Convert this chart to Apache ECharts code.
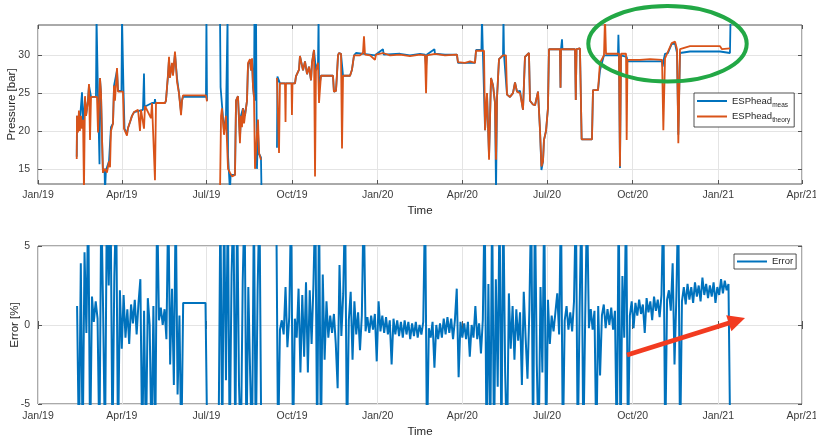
<!DOCTYPE html>
<html>
<head>
<meta charset="utf-8">
<script src="https://cdn.jsdelivr.net/npm/echarts@6/dist/echarts.min.js"></script>
<style>
html,body{margin:0;padding:0;background:#fff;}
#chart{width:816px;height:439px;}
</style>
</head>
<body>
<div id="chart"></div>
<script>
// ---------------- DATA (day = days since 2019-01-01) ----------------
const xTickLabels = ['Jan/19','Apr/19','Jul/19','Oct/19','Jan/20','Apr/20','Jul/20','Oct/20','Jan/21','Apr/21'];
const xTickDates = ['2019-01-01','2019-04-01','2019-07-01','2019-10-01','2020-01-01','2020-04-01','2020-07-01','2020-10-01','2021-01-01','2021-04-01'];
const pressureTicks = [15, 20, 25, 30];
const errorTicks = [-5, 0, 5];

// ESPhead_meas [day, bar]
const espMeas = [
[41.6,16.6],[42,22],[44,20.2],[45.7,22.5],[47.3,25.1],[48.4,20.6],[50.5,24.3],[51.6,22],[53.7,24],[54.8,26],[57,24.5],[62.3,24.5],[62.9,35],[64.5,24.5],[66.1,15.6],[66.6,27],[67.7,25],[68.8,19],[69.8,14.5],[71.5,15],[72,12],[73,14.8],[74.1,14.8],[76.3,16],[78.4,20.5],[80.6,21],[81.7,26],[84.9,28],[86,25.3],[89.7,25.3],[90.3,35],[91.9,25.3],[93,20.3],[95.6,19.6],[96.7,20.4],[98.9,21.2],[101,22],[103.2,22.5],[112.8,22.8],[113.9,27.6],[114.5,23.2],[122.5,23.7],[125.2,23.7],[125.7,24.2],[126.3,23.7],[136.5,23.7],[137.5,24],[139.7,27.3],[140.8,29.5],[141.8,27.2],[144,28.8],[145.1,27.5],[147.2,30.2],[149.4,27],[151.5,25],[153.7,22.5],[154.7,24],[155.8,24.5],[180.5,24.5],[181,35],[181.6,24],
[188,null],
[195.6,35],[196.2,25.8],[197.7,25.8],[199.9,20],[202,22],[203.7,35],[204.2,16.8],[206.3,12],[207,14.2],[211.7,14.2],[212.8,24],[214.9,24.6],[216,24.5],[217,19],[218.1,22],[220.3,23],[222.4,22],[224.6,24],[225.7,28.8],[227.8,29.3],[228.9,28],[230,29.3],[231,26],[232.1,24.5],[232.6,35],[233.2,24],[234.3,35],[234.8,24],[235.3,15],[236.4,20],[237.5,17],[239.6,16.5],[240.2,12],
[248,null],
[256.8,17.8],[257.3,27.2],[259,27],[260,26.3],[276.2,26.3],[277.2,27.2],[280.5,28.1],[281.5,29.9],[282.6,30],[284.8,28],[286.9,29.2],[289.1,27.5],[291.2,28.5],[293.4,26.7],[294.4,29],[296.6,30.7],[298.7,28],[300.9,29],[301.5,35],[302,25.7],[303,25.5],[304.1,27.3],[317,27.3],[318,25.2],[320.2,25.3],[321.3,27.5],[322.4,30],[323.4,30.3],[325.6,30.2],[327.8,27.3],[335.3,27.3],[337.4,28.1],[339.6,30],[341.7,30.3],[350.3,30.2],[362.1,30],[370.7,30.8],[371.5,30.1],[389,30.2],[399.7,30],[410.5,30.2],[415.9,30.1],[417,28.5],[418,30.1],[426,30.8],[426.6,30.2],[437.4,30.1],[450.2,30.1],[451.3,29],[469.6,29],[470.7,30.7],[476.5,30.7],[477.1,35],[478,30.7],[479.3,30.6],[480.4,20.1],[482.5,25],[484.7,16.6],[486.8,27],[489,26],[491.1,23.7],[492.2,12],[493.3,24.5],[495.4,29.5],[499.7,30],[500.2,35],[500.8,30],[502.9,30],[504,24.8],[507.2,24.5],[510.4,25],[512.6,26.4],[514.7,25.2],[518,25.3],[521.2,22.8],[523.3,29.8],[527.6,30.3],[528.7,24],[531.9,23.5],[534.1,23.4],[537.3,25.2],[539.5,20],[541,14.85],[542.7,16],[543.7,18.8],[545.9,20],[548,23],[549.1,30.8],[560.9,30.8],[561.5,25.7],[562,30.8],[563.1,32.1],[563.6,30.8],[577.1,30.8],[577.9,24.1],[578.7,30.8],[582.4,30.9],[584.2,18.9],[595.3,18.9],[596.4,25.4],[601.8,25.4],[603.9,28],[608.2,30],[623.2,30],[623.7,32.7],[624.3,30],[625.4,15.1],[626.5,30],[632.6,29.8],[633.5,29.2],[670.6,29.2],[671.3,28.5],[672,29.2],[673.8,30.2],[677,30.3],[681,31.5],[684.6,31.5],[686.7,30.3],[688.1,19.5],[689.9,30.3],[700.6,30.5],[732.9,30.5],[735,30.3],[743.6,30.3],[744.2,35]
];

// ESPhead_theory [day, bar]
const espTheory = [
[41.6,16.3],[41.9,22],[43,19.8],[44,22.7],[45,20],[46.2,22],[47.3,20.3],[48.4,21.5],[49.4,12],[50.5,24.6],[51.6,22],[52.7,21.8],[53.7,24],[54.8,26.2],[55.9,18.8],[57,24.5],[63.4,24.5],[64.5,19.8],[66.6,27],[67.7,25],[68.8,19],[69.8,14.5],[72,15],[74.1,14.5],[76.3,16],[77.4,15.2],[78.4,20],[80.6,21],[81.7,26],[82.7,24],[84.9,28.3],[86,25.2],[91.3,25.2],[92.4,20.3],[95.6,19.4],[96.7,20.4],[98.9,21.2],[101,22],[103.2,22.5],[107.5,22.8],[109.6,20],[110.7,22.8],[112.8,22.8],[113.9,20.3],[115,23.3],[121.4,21.7],[122.5,23.7],[125.7,13.5],[126.8,23.7],[136.5,23.7],[137.5,24],[139.7,27.5],[140.8,29.8],[141.8,27],[144,29],[145.1,27.3],[147.2,30.5],[149.4,26.5],[151.5,25],[153.7,22.1],[154.7,24],[155.8,24.7],[180.5,24.7],[181.6,23.9],
[188,null],
[195.6,12],[196.7,22],[197.7,23],[199.9,19.5],[202,22],[204.2,15],[206.3,14.5],[208.5,14],[211.7,14.2],[212.8,24],[214.9,24.6],[216,24.5],[217,18.4],[218.1,22],[219.2,20.5],[220.3,23],[221.4,21],[222.4,22],[224.6,24],[225.7,29],[227.8,29.5],[228.9,28],[230,29.6],[231,26],[232.1,24.5],[233.2,15],[234.3,15],[235.3,19.7],[236.4,21.5],[237.5,17.1],[239.6,16.2],
[248,null],
[256.8,27],[259,17.1],[260,26.3],[265.4,26.3],[266,21.2],[266.5,26.3],[272.4,26.3],[272.9,22.1],[273.5,26.3],[276.2,26.3],[277.2,27.2],[280.5,28.1],[281.5,29.9],[282.6,30],[284.8,28],[286.9,29.2],[289.1,27.5],[291.2,28.5],[293.4,26.7],[294.4,29],[296.6,30.7],[297.7,14],[298.7,28],[300.9,29],[302,23.7],[303,25.5],[304.1,27.3],[317,27.3],[318,25.2],[320.2,25.3],[321.3,27.5],[322.4,30],[323.4,30.3],[325.6,30.2],[326.7,17.7],[327.8,27.3],[335.3,27.3],[337.4,28.1],[339.6,30],[341.7,30.2],[346,30],[349.2,30.3],[350.3,32.5],[351.4,30.1],[356.8,30],[362.1,29.4],[363.2,30.1],[370.7,30.3],[378.3,30],[389,30.1],[399.7,29.9],[410.5,30.1],[415.9,30],[417,25],[418,30],[426.6,30.2],[437.4,30],[450.2,30.1],[451.3,29.1],[458.8,29],[464.2,29.2],[469.6,29],[470.7,30.6],[479.3,30.6],[480.4,20.1],[482.5,25],[484.7,16.2],[486.8,27],[489,26],[491.1,23.7],[492.2,16.2],[493.3,24.5],[495.4,29.5],[499.7,30],[502.9,30],[504,24.8],[507.2,24.5],[510.4,25],[512.6,26.4],[514.7,25.2],[518,25],[521.2,22.8],[523.3,29.8],[527.6,30.3],[528.7,24],[531.9,23.5],[534.1,23.4],[537.3,25.2],[539.5,20],[541,15.3],[542.7,16],[543.7,18.8],[545.9,20],[548,23],[549.1,30.8],[560.9,30.8],[561.5,25.7],[562,30.8],[577.1,30.8],[577.9,24.1],[578.7,30.8],[582.4,30.9],[584.2,18.9],[595.3,18.9],[596.4,25.4],[601.8,25.4],[603.9,29],[608.2,30],[609.3,35],[610.4,30.2],[624.3,30.2],[625.4,15.3],[626.5,30.2],[631.9,30.2],[632.6,18.8],[633.5,29.4],[646.9,29.4],[657.7,29.5],[670.6,29.4],[672,20.1],[673.8,29.6],[677,30.5],[681,31.6],[684.6,31.8],[686.7,30.8],[688.1,18.4],[689.9,30.8],[700.6,31.2],[732.9,31.2],[735,30.8],[743.6,30.9]
];

// Error [%], one reading every errorStepDays starting at errorStartDay (null = no data)
const errorStartDay = 42;
const errorStepDays = 2;
const errorValues = [
1.2,-8,3.9,-8,4.6,-0.5,8,-8,1.8,0.2,
1.5,0.4,-8,8,0.8,-8,8,2.5,8,-8,
3.0,8,-8,2.2,-1.5,1.9,-0.8,1.0,-1.2,1.3,
0.1,1.6,-0.6,1.4,2.9,-8,0.9,-8,1.7,0.0,
-8,1.2,-8,8,0.3,1.1,0.0,1.0,-0.9,8,
-2.5,2.3,-3.8,8,-4.4,0.6,-8,1.4,1.4,1.4,
1.4,1.4,1.4,1.4,1.4,1.4,1.4,1.4,1.4,1.4,
-8,null,null,null,null,null,-8,8,-8,8,
-3.5,8,-8,3.2,8,-8,8,-3.8,-8,2.8,
8,-8,2.4,-3.2,-8,8,-8,2.2,8,-8,
null,null,null,null,null,null,null,8,-8,-0.3,
0.3,-0.6,2.4,-1.4,0.5,8,-8,0.4,-0.8,2.3,
-3.0,1.9,-2.0,2.7,-3.0,2.2,-1.2,2.6,8,-8,
8,-8,3.2,-2.2,1.5,-0.8,0.6,-0.5,0.7,-1.2,
-4.0,3.8,-0.7,2.0,8,-8,0.3,2.1,-2.2,1.5,
-0.6,0.8,-1.6,0.6,8,-0.4,0.5,-0.5,0.6,-0.3,
0.7,-2.3,1.5,-0.4,0.6,-0.5,0.5,-0.6,0.3,-2.5,
0.4,-0.6,0.3,-0.7,0.2,-0.8,0.3,-0.6,0.2,-0.9,
0.1,-0.7,0.2,-0.8,0.0,-0.6,0.2,8,-8,-0.2,
-0.8,0.2,-2.7,0.0,-0.9,0.1,-0.8,0.4,-0.6,0.5,
-0.5,0.4,-0.9,0.3,2.3,-3.3,0.2,-0.8,0.1,-0.9,
0.2,-2.0,0.0,-0.8,1.2,-0.9,0.1,-1.8,0.3,8,
-8,2.6,-8,8,-8,2.9,-3.9,8,-8,8,
-3.0,-8,2.0,-1.5,1.2,-2.2,1.0,-1.0,0.8,-3.8,
2.1,-0.8,-3.4,0.9,8,-8,8,-2.5,-8,2.4,
-3.0,8,-8,1.6,-1.2,0.6,-0.4,0.8,2.0,-0.6,
8,-8,0.3,1.2,-0.3,0.8,-0.4,1.5,8,-8,
0.9,8,-8,0.4,8,-0.2,1.0,-0.3,0.9,-8,
1.2,-3.2,0.6,1.3,-0.2,1.0,0.0,1.1,-0.3,0.9,
-8,8,-8,3.1,-0.8,8,-8,0.6,1.5,-0.2,
1.4,0.6,1.6,0.7,1.3,-0.5,1.7,0.8,1.5,0.3,
1.8,0.9,1.6,0.5,1.9,8,-8,1.6,2.2,0.9,
3.9,-2.5,1.8,8,-8,1.5,2.4,1.3,2.6,1.6,
2.4,1.4,2.7,1.8,2.5,1.5,3.0,1.9,2.6,1.7,
2.5,1.8,2.7,1.4,2.4,1.9,2.9,2.0,2.8,2.2,
2.6,-8
];

// ---------------- BUILD ----------------
const DAY = 86400000;
const T0 = Date.UTC(2019, 0, 1);
const toMs = d => T0 + d * DAY;
const parseDate = s => { const p = s.split('-').map(Number); return Date.UTC(p[0], p[1] - 1, p[2]); };
const xTicks = xTickDates.map(parseDate);
const labelOf = {};
xTicks.forEach((t, i) => { labelOf[t] = xTickLabels[i]; });

const measData = espMeas.map(p => [toMs(p[0]), p[1] === null ? null : p[1]]);
const theoryData = espTheory.map(p => [toMs(p[0]), p[1] === null ? null : p[1]]);
const errorData = errorValues.map((v, i) => [toMs(errorStartDay + i * errorStepDays), v]);

const C_BLUE = '#0072BD', C_ORANGE = '#D95319';
const AX = '#555555', GRIDC = '#e4e4e4', TXT = '#3b3b3b';
const FONT = '"Liberation Sans", Arial, sans-serif';
const xMin = parseDate('2019-01-01'), xMax = parseDate('2021-04-01');

function xAxisMain(gi, nameGap, labelMargin) {
  return {
    type: 'value', gridIndex: gi, min: xMin, max: xMax, position: 'bottom',
    name: 'Time', nameLocation: 'middle', nameGap: nameGap, nameMoveOverlap: false,
    nameTextStyle: { fontFamily: FONT, fontSize: 11.5, color: '#262626' },
    axisLine: { show: false },
    axisTick: { show: true, inside: true, length: 4, customValues: xTicks, lineStyle: { color: AX } },
    axisLabel: { customValues: xTicks, formatter: v => labelOf[v] || '', fontFamily: FONT, fontSize: 10.5, color: TXT, margin: labelMargin, showMinLabel: true, showMaxLabel: true, hideOverlap: false },
    splitLine: { show: true, lineStyle: { color: GRIDC, width: 1 } }
  };
}
function xAxisMirror(gi) {
  return {
    type: 'value', gridIndex: gi, min: xMin, max: xMax, position: 'top',
    axisLine: { show: false },
    axisTick: { show: true, inside: true, length: 4, customValues: xTicks, lineStyle: { color: AX } },
    axisLabel: { show: false, customValues: xTicks },
    splitLine: { show: false }
  };
}

const option = {
  animation: false,
  backgroundColor: '#ffffff',
  grid: [
    { left: 38, top: 25, width: 764, height: 159, show: true, borderColor: AX, borderWidth: 1, backgroundColor: '#fff', containLabel: false, outerBoundsMode: 'none' },
    { left: 38, top: 246, width: 764, height: 158, show: true, borderColor: AX, borderWidth: 1, backgroundColor: '#fff', containLabel: false, outerBoundsMode: 'none' }
  ],
  xAxis: [ xAxisMain(0, 21, 6), xAxisMirror(0), xAxisMain(1, 22, 7), xAxisMirror(1) ],
  yAxis: [
    { type: 'value', gridIndex: 0, min: 13, max: 34, position: 'left',
      name: 'Pressure [bar]', nameLocation: 'middle', nameGap: 20, nameRotate: 90, nameMoveOverlap: false,
      nameTextStyle: { fontFamily: FONT, fontSize: 11.5, color: '#262626' },
      axisLine: { show: false },
      axisTick: { show: true, inside: true, length: 4, customValues: pressureTicks, lineStyle: { color: AX } },
      axisLabel: { customValues: pressureTicks, fontFamily: FONT, fontSize: 10.5, color: TXT, margin: 8 },
      splitLine: { show: true, lineStyle: { color: GRIDC, width: 1 } } },
    { type: 'value', gridIndex: 0, min: 13, max: 34, position: 'right',
      axisLine: { show: false },
      axisTick: { show: true, inside: true, length: 4, customValues: pressureTicks, lineStyle: { color: AX } },
      axisLabel: { show: false, customValues: pressureTicks }, splitLine: { show: false } },
    { type: 'value', gridIndex: 1, min: -5, max: 5, interval: 5, position: 'left',
      name: 'Error [%]', nameLocation: 'middle', nameGap: 17, nameRotate: 90, nameMoveOverlap: false,
      nameTextStyle: { fontFamily: FONT, fontSize: 11.5, color: '#262626' },
      axisLine: { show: false },
      axisTick: { show: true, inside: true, length: 4, customValues: errorTicks, lineStyle: { color: AX } },
      axisLabel: { customValues: errorTicks, fontFamily: FONT, fontSize: 10.5, color: TXT, margin: 8 },
      splitLine: { show: true, lineStyle: { color: GRIDC, width: 1 } } },
    { type: 'value', gridIndex: 1, min: -5, max: 5, interval: 5, position: 'right',
      axisLine: { show: false },
      axisTick: { show: true, inside: true, length: 4, customValues: errorTicks, lineStyle: { color: AX } },
      axisLabel: { show: false, customValues: errorTicks }, splitLine: { show: false } }
  ],
  legend: [
    { data: ['ESPhead_meas', 'ESPhead_theory'], orient: 'vertical', left: 694, top: 93,
      icon: 'rect', padding: [3, 4, 3, 3], itemGap: 3, itemWidth: 30, itemHeight: 2,
      backgroundColor: '#fff', borderColor: '#262626', borderWidth: 0.8, borderRadius: 0,
      formatter: n => n === 'ESPhead_meas' ? '{a|ESPhead}{b|meas}' : '{a|ESPhead}{b|theory}',
      textStyle: { color: '#262626', fontFamily: FONT,
        rich: { a: { fontSize: 9.5, fontFamily: FONT, color: '#262626', lineHeight: 15 },
                b: { fontSize: 6.5, fontFamily: FONT, color: '#262626', lineHeight: 7, verticalAlign: 'bottom' } } } },
    { data: ['Error'], orient: 'vertical', left: 734, top: 254,
      icon: 'rect', padding: [2, 3, 2, 3], itemWidth: 30, itemHeight: 2,
      backgroundColor: '#fff', borderColor: '#262626', borderWidth: 0.8, borderRadius: 0,
      textStyle: { color: '#262626', fontFamily: FONT, fontSize: 9.5, lineHeight: 11 } }
  ],
  series: [
    { name: 'ESPhead_meas', type: 'line', xAxisIndex: 0, yAxisIndex: 0, data: measData,
      showSymbol: false, symbol: 'none', connectNulls: false, clip: true,
      lineStyle: { color: C_BLUE, width: 1.8 }, itemStyle: { color: C_BLUE }, z: 2 },
    { name: 'ESPhead_theory', type: 'line', xAxisIndex: 0, yAxisIndex: 0, data: theoryData,
      showSymbol: false, symbol: 'none', connectNulls: false, clip: true,
      lineStyle: { color: C_ORANGE, width: 1.8 }, itemStyle: { color: C_ORANGE }, z: 3 },
    { name: 'Error', type: 'line', xAxisIndex: 2, yAxisIndex: 2, data: errorData,
      showSymbol: false, symbol: 'none', connectNulls: false, clip: true,
      lineStyle: { color: C_BLUE, width: 2 }, itemStyle: { color: C_BLUE }, z: 2 }
  ],
  graphic: [
    { type: 'ellipse', z: 100, shape: { cx: 667.5, cy: 43.8, rx: 79.2, ry: 37.8 },
      style: { fill: 'none', stroke: '#22a845', lineWidth: 4 } },
    { type: 'line', z: 100, shape: { x1: 627, y1: 355, x2: 729, y2: 323 },
      style: { stroke: '#f23b20', lineWidth: 4.5 } },
    { type: 'polygon', z: 100, shape: { points: [[745, 318], [726.2, 315.2], [731.4, 331.2]] },
      style: { fill: '#f23b20' } }
  ]
};

const chart = echarts.init(document.getElementById('chart'), null, { renderer: 'canvas' });
chart.setOption(option);
</script>
</body>
</html>
